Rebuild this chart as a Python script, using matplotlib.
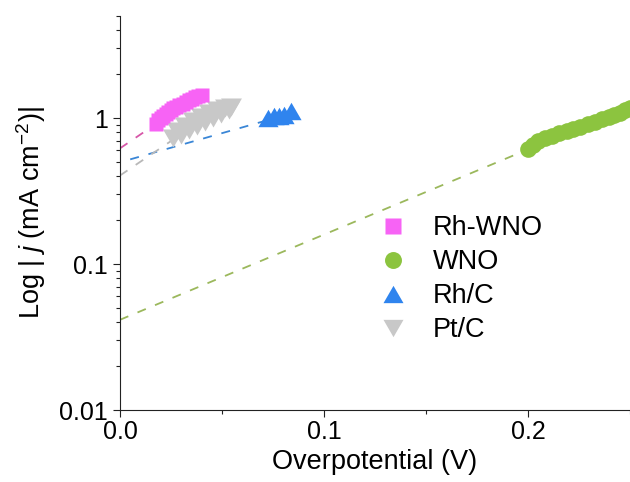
"""
tafel_plot.py
-------------
Tafel plots (log |j| vs overpotential) for Rh-WNO, WNO, Rh/C and Pt/C.
"""

import matplotlib
matplotlib.use("Agg")
import matplotlib.pyplot as plt
from matplotlib.lines import Line2D
from matplotlib.path import Path
from matplotlib.ticker import FuncFormatter, MultipleLocator, LogLocator

plt.rcParams['font.family'] = ['Liberation Sans', 'DejaVu Sans']
plt.rcParams['mathtext.fontset'] = 'custom'
plt.rcParams['mathtext.rm'] = 'Liberation Sans'
plt.rcParams['mathtext.it'] = 'Liberation Sans:italic'

# measured points (V, mA cm-2)
rhwno_x = [0.0176, 0.0188, 0.0201, 0.0213, 0.0225, 0.0237, 0.0250, 0.0262, 0.0274,
           0.0290, 0.0308, 0.0323, 0.0340, 0.0354, 0.0369, 0.0384, 0.0400]
rhwno_y = [0.917, 0.964, 1.008, 1.037, 1.065, 1.099, 1.134, 1.163, 1.193,
           1.226, 1.257, 1.293, 1.328, 1.358, 1.386, 1.408, 1.431]

wno_x = [0.2001, 0.2026, 0.2051, 0.2083, 0.2116, 0.2153, 0.2190, 0.2223, 0.2256,
         0.2292, 0.2329, 0.2362, 0.2395, 0.2424, 0.2452, 0.2477, 0.2501]
wno_y = [0.611, 0.653, 0.698, 0.726, 0.755, 0.786, 0.817, 0.844, 0.870,
         0.907, 0.946, 0.981, 1.019, 1.053, 1.091, 1.127, 1.167]

rhc_x = [0.0725, 0.0754, 0.0779, 0.0804, 0.0840]
rhc_y = [1.000, 1.027, 1.037, 1.053, 1.111]

ptc_x = [0.0261, 0.0281, 0.0300, 0.0320, 0.0340, 0.0359, 0.0379, 0.0399,
         0.0418, 0.0438, 0.0458, 0.0477, 0.0497, 0.0517, 0.0536, 0.0544]
ptc_y = [0.730, 0.815, 0.771, 0.882, 0.828, 0.954, 0.888, 1.024,
         0.946, 1.091, 1.008, 1.144, 1.065, 1.180, 1.134, 1.199]

# Tafel fit lines (two end points each)
rhwno_fit_x = [0.0, 0.020]
rhwno_fit_y = [0.62, 0.96]
wno_fit_x = [0.0, 0.200]
wno_fit_y = [0.0415, 0.61]
rhc_fit_x = [0.005, 0.072]
rhc_fit_y = [0.521, 0.964]
ptc_fit_x = [0.0, 0.026]
ptc_fit_y = [0.404, 0.711]

labels = ['Rh-WNO', 'WNO', 'Rh/C', 'Pt/C']

# equilateral triangles, width = markersize
tri_up = Path([(-1, -0.866), (1, -0.866), (0, 0.866), (-1, -0.866)], closed=True)
tri_dn = Path([(-1, 0.866), (1, 0.866), (0, -0.866), (-1, 0.866)], closed=True)

c_rhwno, c_wno, c_rhc, c_ptc = '#f763f5', '#8cc43f', '#2f84ee', '#c8c8c8'

fig = plt.figure(figsize=(6.3, 4.82), dpi=100)
ax = fig.add_axes([120 / 630, 72 / 482, 510 / 630, 394 / 482])

dash = dict(lw=1.3, dashes=(5, 5.5), zorder=2)
ax.plot(rhwno_fit_x, rhwno_fit_y, color='#d757a8', **dash)
ax.plot(wno_fit_x, wno_fit_y, color='#9bb85c', **dash)
ax.plot(rhc_fit_x, rhc_fit_y, color='#3a86d6', **dash)
ax.plot(ptc_fit_x, ptc_fit_y, color='#b8b8b8', **dash)

ax.plot(ptc_x, ptc_y, ls='none', marker=tri_dn, ms=15, color=c_ptc, mec='none', zorder=3)
ax.plot(rhwno_x, rhwno_y, ls='none', marker='s', ms=10, color=c_rhwno, mec='none', zorder=4)
ax.plot(rhc_x, rhc_y, ls='none', marker=tri_up, ms=14.5, color=c_rhc, mec='none', zorder=3)
ax.plot(wno_x, wno_y, ls='none', marker='o', ms=12, color=c_wno, mec='none', zorder=3,
        clip_on=False)

ax.set_yscale('log')
ax.set_xlim(0, 0.25)
ax.set_ylim(0.01, 5)

ax.xaxis.set_major_locator(MultipleLocator(0.1))
ax.xaxis.set_minor_locator(MultipleLocator(0.05))
ax.xaxis.set_major_formatter(FuncFormatter(lambda v, p: f'{v:.1f}'))
ax.yaxis.set_major_locator(LogLocator(base=10, numticks=10))
ax.yaxis.set_minor_locator(LogLocator(base=10, subs=range(2, 10), numticks=20))
ax.yaxis.set_major_formatter(FuncFormatter(lambda v, p: f'{v:g}'))

for s in ['top', 'right']:
    ax.spines[s].set_visible(False)
for s in ['left', 'bottom']:
    ax.spines[s].set_linewidth(0.8)
    ax.spines[s].set_color('#222222')

ax.tick_params(which='major', direction='out', length=5, width=0.8, labelsize=18, color='#222222')
ax.tick_params(which='minor', direction='out', length=3, width=0.8, color='#222222')
ax.tick_params(axis='y', pad=4)
ax.tick_params(axis='x', pad=2)

ax.set_xlabel('Overpotential (V)', fontsize=19.5, labelpad=4)
ax.set_ylabel(r'Log | $\mathit{j}$ (mA cm$^{-2}$)|', fontsize=19.5, labelpad=8)

handles = [
    Line2D([], [], ls='none', marker='s', ms=11.5, color=c_rhwno, mec='none'),
    Line2D([], [], ls='none', marker='o', ms=12.2, color=c_wno, mec='none'),
    Line2D([], [], ls='none', marker=tri_up, ms=14.4, color=c_rhc, mec='none'),
    Line2D([], [], ls='none', marker=tri_dn, ms=14.4, color=c_ptc, mec='none'),
]
fig.legend(handles, labels, loc='upper left', bbox_to_anchor=(379 / 630, 267 / 482),
           frameon=False, fontsize=19.5, borderpad=0, borderaxespad=0,
           handlelength=1.0, handletextpad=1.0, labelspacing=0.3)

fig.savefig('out.png', dpi=100)
